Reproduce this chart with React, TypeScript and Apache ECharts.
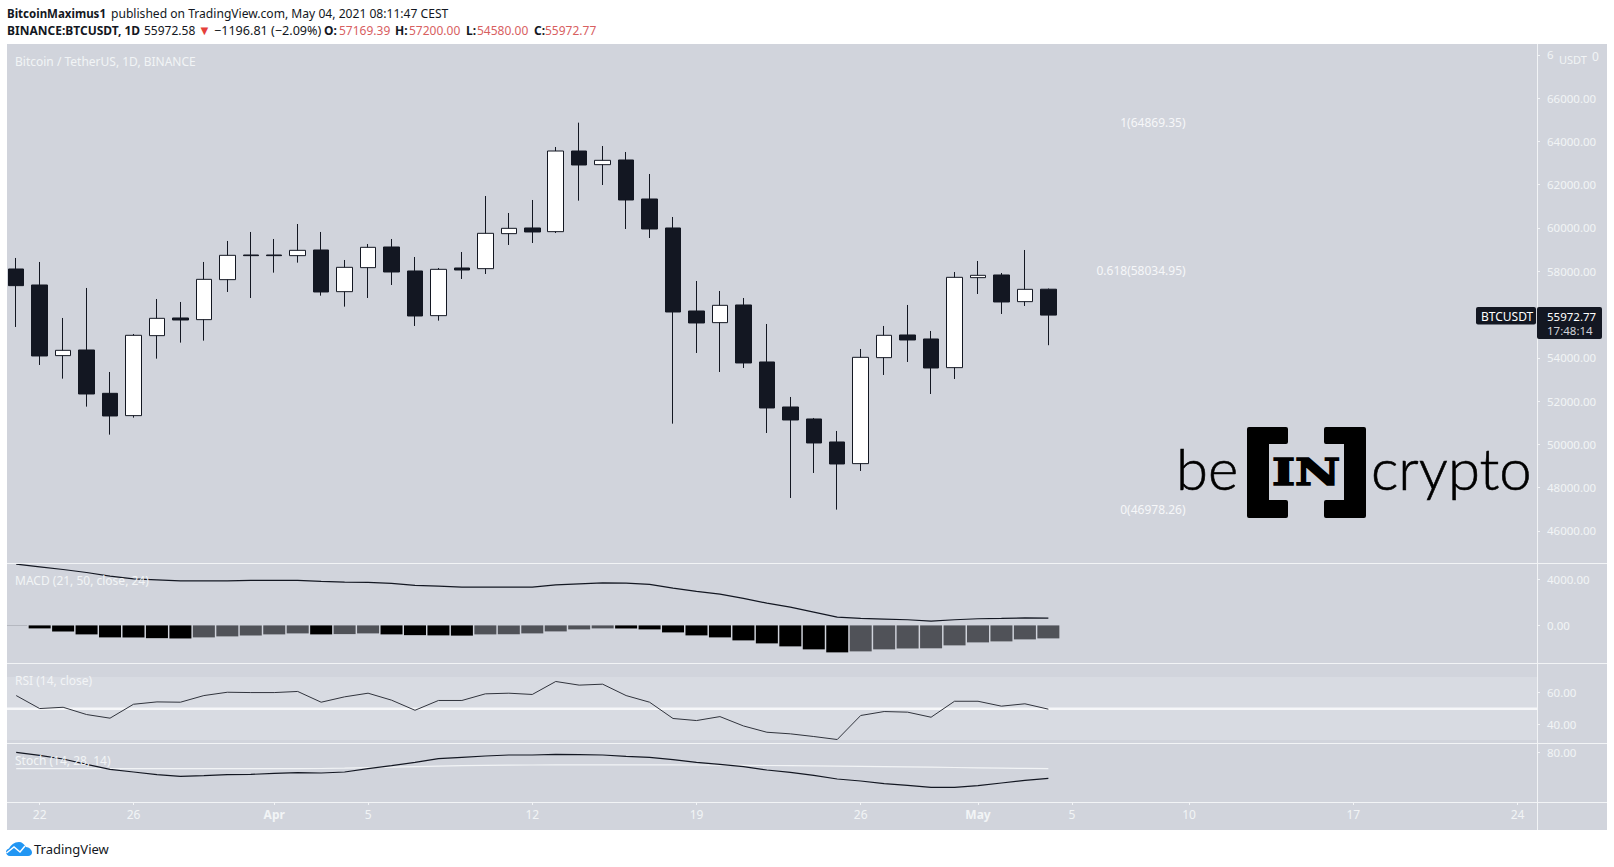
import React, { useEffect, useRef } from "react";
import * as echarts from "echarts";

const opens = [58104,57364,54098,54359,52356,51324,55022,55839,55762,57611,58751,58751,58721,58982,57056,58166,59121,58012,55947,58150,58120,59738,60000,59830,63559,62927,63143,61340,60000,56162,55623,56440,53805,51724,51170,50106,49105,54005,55053,54868,53543,57704,57827,56594,57169];
const closes = [57334,54082,54344,52325,51308,55038,55823,55746,57626,58736,58721,58721,58967,57041,58181,59106,57965,55931,58089,58058,59753,59984,59815,63559,62912,63128,61294,59953,56116,55608,56424,53759,51678,51123,50060,49089,54020,55038,54822,53527,57719,57811,56579,57164,55972];
const lows = [55423,53666,53034,51740,50445,51231,53959,54699,54791,57041,56763,57935,58397,56871,56363,56763,57364,55469,55716,57642,57873,59214,59306,59768,61263,61987,59953,59537,50954,54221,53342,53527,50522,47517,48673,46978,48766,53204,53805,52325,53019,56948,56024,56394,54580];
const highs = [58613,58428,55839,57226,53342,55099,56717,56579,58428,59399,59815,59491,60184,59815,58520,59260,59491,58659,58150,58890,61479,60693,61294,63744,64869,63790,63513,62496,60508,57549,57087,56763,55561,52187,51216,50615,54406,55469,56440,55238,57965,58474,57919,58982,57200];
const macdLine = [5280,5051,4822,4563,4248,4018,3932,3846,3832,3846,3875,3889,3875,3789,3731,3702,3616,3444,3387,3300,3300,3300,3300,3501,3588,3674,3645,3530,3214,2927,2698,2325,1923,1579,1148,718,603,545,488,373,488,574,603,646,631];
const macdHist = [-57,-258,-517,-775,-1033,-1040,-1100,-1125,-1033,-947,-861,-775,-689,-775,-750,-689,-775,-840,-860,-880,-775,-770,-689,-517,-344,-258,-265,-344,-603,-861,-1033,-1292,-1550,-1808,-2066,-2325,-2239,-2066,-1990,-1975,-1722,-1464,-1378,-1205,-1119];
const rsiValues = [58.2,50,50.8,46.2,43.9,52.7,54.2,54,58.2,60.3,60.1,60.1,60.8,54,57.4,59.7,55.3,48.9,55.1,55.1,59.3,59.7,58.9,67.1,64.8,65.4,58.2,54,43.7,42.4,44.9,39,35,34,32.3,30.4,45.6,48.1,47.7,44.5,54.6,54.6,51.5,53,49.6];
const stochK = [80.3,77.3,73.7,68.3,63.3,60.7,58,56.3,57,58,58.3,59.3,60,59.7,60.7,64,67,70.3,74,75.3,76.7,77.7,77.7,78.3,78,77.7,76.3,75.3,73,70.3,68.3,66,62.7,60.3,57.3,53.7,51.7,49,47.3,45.3,45.3,47,49.7,52.3,54.3];
const stochD = [64,64,64,64,64,64,64,64,64,64,64,64,64,64.2,64.5,65,65.5,66,66.5,67,67.3,67.5,67.7,67.8,67.9,67.9,67.9,67.9,67.8,67.7,67.6,67.4,67.2,67,66.8,66.6,66.4,66.1,65.8,65.5,65.2,64.9,64.6,64.3,64];

const priceTicks = [46000,48000,50000,52000,54000,58000,60000,62000,64000,66000,68000];
const macdTicks = [0,4000];
const rsiTicks = [40,60];
const stochTicks = [80];
const timeTickIdx = [1,5,11,15,22,29,36,41,45,50,57,64];
const timeTickText = ["22","26","Apr","5","12","19","26","May","5","10","17","24"];
const fibLevels = [
  { label: "1(64869.35)", price: 64869.35 },
  { label: "0.618(58034.95)", price: 58034.95 },
  { label: "0(46978.26)", price: 46978.26 },
];

const BG = "#d1d4dc";
const DARK = "#131722";
const LIGHT = "#f2f4f6";
const FONT = "'Noto Sans', 'Open Sans', sans-serif";
const RED = "#d8605f";
const left = 7, right = 77;
const CLOUD_D = "M4 14C1.5 14 0 12 0 10C0 8 1.5 7 3 6.5C5 3 8 0 13 0C16 0 18 2 20 5C23 5 26 8 26 10.5C26 12.5 24.5 14 22 14Z";

const toPairs = (a: number[]) => a.map((v, i) => [i, v]);

function yAxis(gridIndex: number, min: number, max: number, ticks: number[], fmt: (v: number) => string) {
  return {
    type: "value", gridIndex, position: "right", min, max, scale: true,
    splitLine: { show: false }, axisLine: { show: false, onZero: false },
    axisTick: { show: true, length: 3, lineStyle: { color: LIGHT }, customValues: ticks },
    axisLabel: { show: true, color: LIGHT, fontFamily: FONT, fontSize: 11.5, margin: 10, customValues: ticks, formatter: fmt },
  };
}

function xAxis(gridIndex: number, labeled: boolean) {
  return {
    type: "value", gridIndex, min: -0.392, max: 64.83,
    splitLine: { show: false }, axisLine: { show: false, onZero: false },
    axisTick: { show: labeled, length: 3, lineStyle: { color: LIGHT }, customValues: timeTickIdx },
    axisLabel: {
      show: labeled, color: LIGHT, fontFamily: FONT, fontSize: 12, margin: 6, customValues: timeTickIdx,
      formatter: (v: number) => {
        const t = timeTickText[timeTickIdx.indexOf(v)] ?? "";
        return t === "Apr" || t === "May" ? `{b|${t}}` : t;
      },
      rich: { b: { fontWeight: "bold", color: LIGHT, fontFamily: FONT, fontSize: 12 } },
    },
  };
}

function hline(y: number) {
  return { type: "line", z: 5, shape: { x1: 7, y1: y, x2: 1607, y2: y }, style: { stroke: LIGHT, lineWidth: 1 } };
}
function txt(x: number, y: number, text: string, extra: any = {}) {
  return { type: "text", z: 20, x, y, style: { text, fill: LIGHT, font: `12px ${FONT}`, verticalAlign: "middle", ...extra } };
}
const headB = (x: number, y: number, t: string, size = 12) => txt(x, y, t, { fill: DARK, font: `bold ${size}px ${FONT}` });
const headR = (x: number, y: number, t: string, size = 12) => txt(x, y, t, { fill: DARK, font: `${size}px ${FONT}` });
const headV = (x: number, t: string) => txt(x, 30, t, { fill: RED, font: `12px ${FONT}` });

export default function App() {
  const ref = useRef<HTMLDivElement>(null);
  useEffect(() => {
    document.body.style.margin = "0";
    echarts.graphic.registerShape("tvcloud", echarts.graphic.extendPath(CLOUD_D, {}) as any);

    const chart = echarts.init(ref.current!, undefined, { renderer: "svg" });
    chart.setOption({
      animation: false,
      backgroundColor: "#ffffff",
      grid: [
        { left, right, top: 44, height: 519 },
        { left, right, top: 563, height: 100 },
        { left, right, top: 663, height: 80 },
        { left, right, top: 743, height: 59 },
      ],
      xAxis: [xAxis(0, false), xAxis(1, false), xAxis(2, false), xAxis(3, true)],
      yAxis: [
        yAxis(0, 44511, 68506, priceTicks, (v) => (v === 68000 ? "6" : v.toFixed(2))),
        yAxis(1, -3241, 5380, macdTicks, (v) => v.toFixed(2)),
        yAxis(2, 28.2, 78.8, rsiTicks, (v) => v.toFixed(2)),
        yAxis(3, 30.7, 89.7, stochTicks, (v) => v.toFixed(2)),
      ],
      series: [
        {
          type: "candlestick", xAxisIndex: 0, yAxisIndex: 0, barWidth: 16,
          data: opens.map((o, i) => [i, o, closes[i], lows[i], highs[i]]),
          itemStyle: { color: "#ffffff", color0: DARK, borderColor: DARK, borderColor0: DARK, borderWidth: 1 },
          markPoint: {
            symbol: "rect", symbolSize: 0, silent: true,
            data: fibLevels.map((f) => ({
              coord: [49.85, f.price], name: f.label,
              label: { show: true, position: "left", distance: 0, formatter: f.label, color: "#f6f7f9", fontFamily: FONT, fontSize: 12 },
            })),
          },
        },
        {
          type: "bar", xAxisIndex: 1, yAxisIndex: 1, barWidth: 22,
          data: macdHist.map((v, i) => ({
            value: [i, v],
            itemStyle: { color: i === 0 ? "#9a9ca3" : v > macdHist[i - 1] ? "#505258" : "#000000" },
          })),
        },
        { type: "line", xAxisIndex: 1, yAxisIndex: 1, data: toPairs(macdLine), symbol: "none", lineStyle: { color: DARK, width: 1.2 } },
        { type: "line", xAxisIndex: 2, yAxisIndex: 2, data: toPairs(rsiValues), symbol: "none", z: 4, lineStyle: { color: "#30333c", width: 1 } },
        { type: "line", xAxisIndex: 3, yAxisIndex: 3, data: toPairs(stochD), symbol: "none", lineStyle: { color: LIGHT, width: 1.2 } },
        { type: "line", xAxisIndex: 3, yAxisIndex: 3, data: toPairs(stochK), symbol: "none", z: 4, lineStyle: { color: DARK, width: 1.2 } },
      ],
      graphic: { elements: [
        { type: "rect", z: -10, shape: { x: 7, y: 44, width: 1600, height: 786 }, style: { fill: BG } },
        { type: "rect", z: -9, shape: { x: 7, y: 677, width: 1530, height: 63 }, style: { fill: "#d8dbe2" } },
        { type: "line", z: 3, shape: { x1: 7, y1: 708.7, x2: 1537, y2: 708.7 }, style: { stroke: "#f6f7f9", lineWidth: 2.5 } },
        hline(563.5), hline(663.5), hline(743.5), hline(802.5),
        { type: "line", z: 5, shape: { x1: 1537.5, y1: 44, x2: 1537.5, y2: 830 }, style: { stroke: LIGHT, lineWidth: 1 } },
        { type: "rect", z: 15, shape: { x: 0, y: 563, width: 7, height: 100 }, style: { fill: "#ffffff" } },
        headB(7, 13, "BitcoinMaximus1", 11.5),
        headR(111, 13, "published on TradingView.com, May 04, 2021 08:11:47 CEST", 12.1),
        headB(7, 30, "BINANCE:BTCUSDT, 1D"),
        headR(144, 30, "55972.58"),
        txt(198, 30, "▼", { fill: "#e5403a", font: `13px ${FONT}` }),
        headR(214, 30, "−1196.81 (−2.09%)", 12.6),
        headB(324, 30, "O:"), headV(339, "57169.39"),
        headB(395, 30, "H:"), headV(409, "57200.00"),
        headB(466, 30, "L:"), headV(477, "54580.00"),
        headB(534, 30, "C:"), headV(545, "55972.77"),
        txt(15, 61, "Bitcoin / TetherUS, 1D, BINANCE"),
        txt(15, 580, "MACD (21, 50, close, 24)"),
        txt(15, 680, "RSI (14, close)"),
        txt(15, 760, "Stoch (14, 28, 14)"),
        txt(1559, 59, "USDT", { font: `11px ${FONT}` }),
        txt(1592, 56, "0"),
        { type: "rect", z: 18, shape: { x: 1537, y: 307, width: 65, height: 32, r: 2 }, style: { fill: DARK } },
        { type: "rect", z: 18, shape: { x: 1476, y: 307, width: 60, height: 17.5, r: 2 }, style: { fill: DARK } },
        txt(1481, 316, "BTCUSDT", { fill: "#ffffff" }),
        txt(1547, 316, "55972.77", { fill: "#ffffff", font: `11.5px ${FONT}` }),
        txt(1547, 330, "17:48:14", { fill: "#d0d2d8", font: `11.5px ${FONT}` }),
        { type: "text", z: 12, x: 1176, y: 467, style: { text: "be", fill: "#000000", stroke: "#000000", lineWidth: 0.6, font: `300 58px Lato, sans-serif`, verticalAlign: "middle" } },
        { type: "text", z: 12, x: 1371, y: 467, style: { text: "crypto", fill: "#000000", stroke: "#000000", lineWidth: 0.6, font: `300 58px Lato, sans-serif`, verticalAlign: "middle" } },
        { type: "polygon", z: 12, shape: { points: [[1249,429],[1286,429],[1286,442],[1267,442],[1267,502],[1286,502],[1286,516],[1249,516]] }, style: { fill: "#000000", stroke: "#000000", lineWidth: 4, lineJoin: "round" } },
        { type: "polygon", z: 12, shape: { points: [[1364,429],[1326,429],[1326,442],[1346,442],[1346,502],[1326,502],[1326,516],[1364,516]] }, style: { fill: "#000000", stroke: "#000000", lineWidth: 4, lineJoin: "round" } },
        { type: "text", z: 12, x: 1306, y: 472, scaleX: 1.3, style: { text: "IN", fill: "#000000", stroke: "#000000", lineWidth: 1.5, font: `bold 38px 'DejaVu Serif', serif`, align: "center", verticalAlign: "middle" } },
        { type: "tvcloud", z: 20, x: 6, y: 842, style: { fill: "#2196f3" } },
        { type: "polyline", z: 21, shape: { points: [[6.5,853],[14,847],[20,852],[25,846]] }, style: { stroke: "#ffffff", lineWidth: 1.5, fill: "none" } },
        txt(34, 848.5, "TradingView", { fill: "#131722", font: `13px ${FONT}` }),
      ] },
    });
    return () => chart.dispose();
  }, []);
  return <div ref={ref} style={{ position: "absolute", left: 0, top: 0, width: 1614, height: 867 }} />;
}
